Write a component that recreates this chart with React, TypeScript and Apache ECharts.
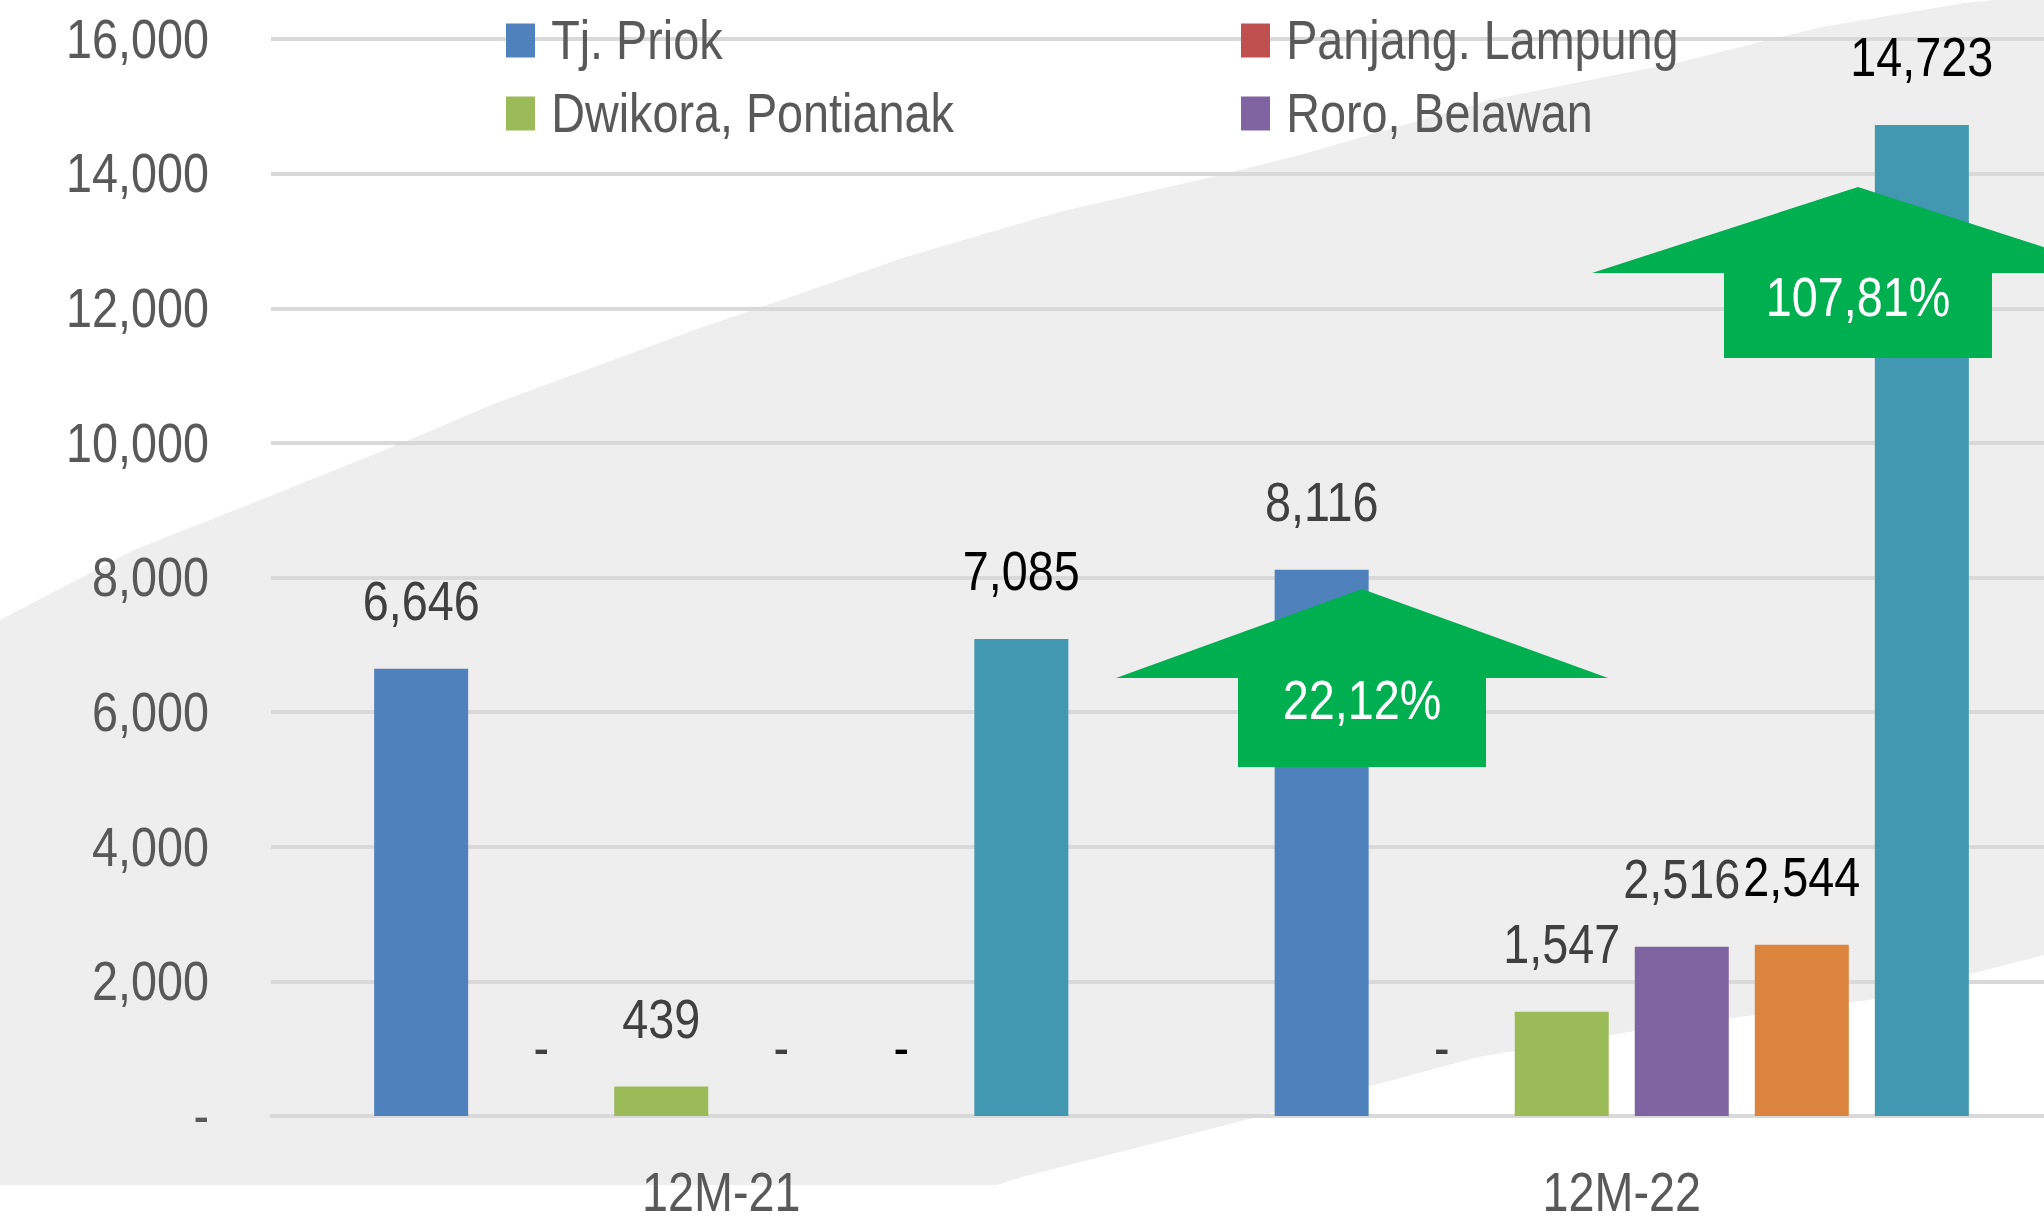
import React, { useEffect, useRef } from "react";
import * as echarts from "echarts";

const categories = ["12M-21", "12M-22"];
const seriesNames = ["Tj. Priok", "Panjang. Lampung", "Dwikora, Pontianak", "Roro, Belawan", "Lainnya", "Total"];
const tjPriok = [6646, 8116];
const panjangLampung = [0, 0];
const dwikoraPontianak = [439, 1547];
const roroBelawan = [0, 2516];
const lainnya = [0, 2544];
const total = [7085, 14723];
const growthLabels = ["22,12%", "107,81%"];
const yMin = 0;
const yMax = 16000;
const yStep = 2000;

const COLORS = ["#4F81BD", "#C0504D", "#9BBB59", "#8064A2", "#DB843D", "#4298B0"];
const LABEL_COLORS = ["#404040", "#404040", "#404040", "#404040", "#000000", "#000000"];
const FONT = "'Liberation Sans', Arial, sans-serif";
const FS = 55;
// horizontal squeeze applied to the whole chart (emulates the condensed look of the original)
const S = 0.85;
const X = (x: number) => x / S;

export default function App() {
  const ref = useRef<HTMLDivElement>(null);
  useEffect(() => {
    if (!ref.current) return;
    const chart = echarts.init(ref.current, null, { renderer: "svg" });
    const values = [tjPriok, panjangLampung, dwikoraPontianak, roroBelawan, lainnya, total];
    const fmt = (v: number) => (v === 0 ? "-" : v.toLocaleString("en-US"));

    const series = values.map((data, i) => ({
      name: seriesNames[i],
      type: "bar",
      data,
      barWidth: X(94),
      barGap: "27.7%",
      itemStyle: { color: COLORS[i] },
      label: {
        show: true,
        position: "top",
        distance: 40,
        color: LABEL_COLORS[i],
        fontFamily: FONT,
        fontSize: FS,
        formatter: (p: any) => fmt(p.value),
      },
      z: 5,
    }));

    const legendPos = [
      { left: 506, top: 13 },
      { left: 1241, top: 13 },
      { left: 506, top: 86 },
      { left: 1241, top: 86 },
    ];
    const legends = legendPos.map((pos, i) => ({
      data: [seriesNames[i]],
      left: X(pos.left),
      top: pos.top,
      padding: 0,
      itemWidth: X(29),
      itemHeight: 34,
      icon: "rect",
      selectedMode: false,
      textStyle: { color: "#595959", fontFamily: FONT, fontSize: FS, padding: [0, 0, 0, 14] },
    }));

    const bgPoints = [
      [0, 620], [134, 550], [268, 497], [402, 443], [491, 405], [700, 328], [906, 257],
      [1059, 212], [1212, 177], [1300, 155], [1490, 100], [1680, 62], [1822, 27], [1964, 3],
      [2100, -10], [2100, 945], [2044, 955], [1869, 1000], [1641, 1030],
      [1478, 1057], [1367, 1087], [1257, 1117], [1022, 1177], [997, 1185], [0, 1185],
    ].map(([x, y]) => [X(x), y]);

    const arrow = (cx: number, tipY: number, wingY: number, halfWing: number, halfShaft: number, bottom: number) =>
      [
        [cx, tipY], [cx + halfWing, wingY], [cx + halfShaft, wingY], [cx + halfShaft, bottom],
        [cx - halfShaft, bottom], [cx - halfShaft, wingY], [cx - halfWing, wingY],
      ].map(([x, y]) => [X(x), y]);

    chart.setOption({
      animation: false,
      backgroundColor: "#FFFFFF",
      grid: { left: X(271), top: 39, width: X(1801), height: 1077, containLabel: false },
      legend: legends,
      xAxis: {
        type: "category",
        data: categories,
        axisLine: { show: true, lineStyle: { color: "#D9D9D9", width: 4 } },
        axisTick: { show: false },
        axisLabel: { color: "#595959", fontFamily: FONT, fontSize: FS, margin: 49 },
        z: 3,
      },
      yAxis: {
        type: "value",
        min: yMin,
        max: yMax,
        interval: yStep,
        axisLine: { show: false },
        axisTick: { show: false },
        splitLine: { show: true, lineStyle: { color: "#D9D9D9", width: 4 } },
        axisLabel: { color: "#595959", fontFamily: FONT, fontSize: FS, margin: X(62), formatter: fmt },
        z: 3,
      },
      graphic: [
        {
          type: "polygon",
          z: -10,
          silent: true,
          shape: { points: bgPoints },
          style: { fill: "#EEEEEE" },
        },
        {
          type: "group",
          z: 100,
          children: [
            {
              type: "polygon",
              z: 100,
              shape: { points: arrow(1362, 589, 678, 246, 124, 767) },
              style: { fill: "#00B050" },
            },
            {
              type: "text",
              z: 101,
              x: X(1362),
              y: 700,
              style: {
                text: growthLabels[0],
                fill: "#FFFFFF",
                font: `${FS}px ${FONT}`,
                align: "center",
                verticalAlign: "middle",
              },
            },
            {
              type: "polygon",
              z: 100,
              shape: { points: arrow(1858, 187, 273, 266, 134, 358) },
              style: { fill: "#00B050" },
            },
            {
              type: "text",
              z: 101,
              x: X(1858),
              y: 297,
              style: {
                text: growthLabels[1],
                fill: "#FFFFFF",
                font: `${FS}px ${FONT}`,
                align: "center",
                verticalAlign: "middle",
              },
            },
          ],
        },
      ],
      series,
    });
    return () => chart.dispose();
  }, []);

  return (
    <div style={{ position: "absolute", left: 0, top: 0, width: 2044, height: 1231, overflow: "hidden", background: "#FFFFFF" }}>
      <div
        ref={ref}
        style={{ width: X(2120), height: 1231, transform: `scaleX(${S})`, transformOrigin: "0 0" }}
      />
    </div>
  );
}
